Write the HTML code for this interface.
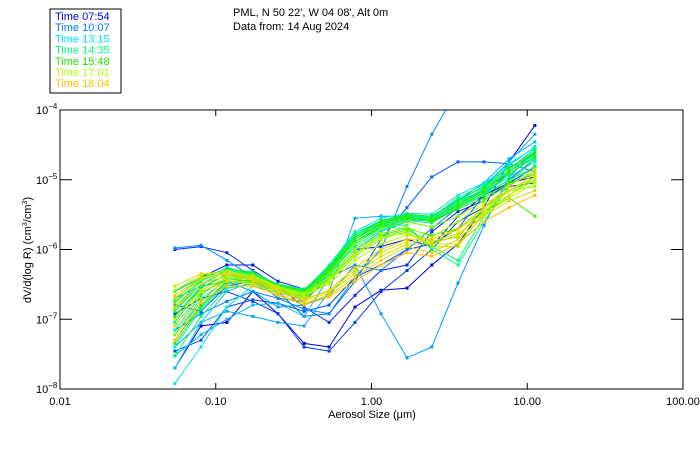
<!DOCTYPE html>
<html><head><meta charset="utf-8"><style>
html,body{margin:0;padding:0;background:#fff;}
svg{display:block;font-family:"Liberation Sans",sans-serif;}
</style></head><body>
<svg id="chart" width="700" height="450" viewBox="0 0 700 450">
<defs><clipPath id="plotclip"><rect x="60" y="110" width="623" height="279"/></clipPath></defs>
<rect x="50" y="9" width="71" height="84" fill="#fff" stroke="#000" stroke-width="1"/>
<g id="legend"></g>
<text x="233" y="16" font-size="11">PML, N 50 22', W 04 08', Alt 0m</text>
<text x="233" y="30" font-size="11">Data from: 14 Aug 2024</text>
<g id="series" clip-path="url(#plotclip)"></g>
<rect x="60" y="110" width="623" height="279" fill="none" stroke="#000" stroke-width="1"/>
<g id="axes"></g>
<text x="372" y="418" font-size="11" text-anchor="middle">Aerosol Size (μm)</text>
<text transform="translate(31,250) rotate(-90)" font-size="11" text-anchor="middle">dV/d(log R) (cm<tspan font-size="7" dy="-4">3</tspan><tspan dy="4">/cm</tspan><tspan font-size="7" dy="-4">3</tspan><tspan dy="4">)</tspan></text>
</svg>
<script>
const sizes=[0.0547,0.0804,0.118,0.173,0.251,0.369,0.534,0.784,1.15,1.69,2.44,3.59,5.27,7.64,11.2];
const xTicks=[0.01,0.1,1,10,100];
const xTickLabels=["0.01","0.10","1.00","10.00","100.00"];
const yTickExps=[-4,-5,-6,-7,-8];
const legendTimes=["07:54","10:07","13:15","14:35","15:48","17:01","18:04"];
const legendColors=["#0000e8","#0080ff","#00e0ff","#00ff80","#20e800","#b0ff00","#ffc000"];
const dvdlogR=[
[2.0e-8,8e-8,9e-8,2.5e-7,1.2e-7,4.5e-8,4e-8,1.5e-7,2.6e-7,2.8e-7,6e-7,1.2e-6,4e-6,1.8e-5,6e-5],
[2.5e-7,4e-7,6e-7,6e-7,3.5e-7,2.7e-7,4e-7,1.0e-6,1.1e-6,1.4e-6,1.1e-6,3e-6,6e-6,9e-6,1.1e-5],
[1e-6,1.1e-6,9e-7,5e-7,3e-7,1.5e-7,9e-8,2.2e-7,5e-7,6e-7,1.8e-6,3.5e-6,5e-6,9e-6,1.5e-5],
[1.2e-7,2.0e-7,2.5e-7,1.8e-7,1.2e-7,4e-8,3.5e-8,9e-8,2.5e-7,5e-7,1.0e-6,2.5e-6,4e-6,8e-6,9e-6],
[3.5e-8,5e-8,1.5e-7,1.9e-7,1.7e-7,1.3e-7,1.6e-7,4e-7,6e-7,1.0e-6,1.2e-6,2.0e-6,6e-6,1.0e-5,2.0e-5],
[1.6e-7,1.3e-7,3e-7,3.5e-7,2.5e-7,1.1e-7,1.2e-7,3.5e-7,1.4e-6,4e-6,1.1e-5,1.8e-5,1.8e-5,1.7e-5,1.3e-5],
[7e-8,1.2e-7,1.8e-7,2.5e-7,2.0e-7,1.8e-7,4e-7,6e-7,5e-7,1.0e-6,2.0e-6,4e-6,6e-6,1.3e-5,2.5e-5],
[1.05e-6,1.15e-6,7e-7,4e-7,2e-7,1.4e-7,1.2e-7,4e-7,1e-6,8e-6,4.5e-5,2e-4,3e-4,3e-4,3e-4],
[2.0e-7,3e-7,3.5e-7,2.5e-7,1.5e-7,1.6e-7,2.2e-7,6e-7,1.2e-7,2.8e-8,4e-8,3.3e-7,2.2e-6,1.1e-5,2.5e-5],
[4e-8,9e-8,1.3e-7,1.1e-7,9e-8,8e-8,2.5e-7,2.8e-6,3e-6,3e-6,3e-6,5e-6,8e-6,1.8e-5,4.5e-5],
[3e-8,6e-8,1.0e-7,1.6e-7,1.7e-7,1.1e-7,4e-7,1.0e-6,1.8e-6,2.5e-6,3e-6,5e-6,9e-6,2e-5,3.5e-5],
[2e-8,9e-8,2.5e-7,3.5e-7,2.6e-7,2.2e-7,5e-7,1.3e-6,2.2e-6,3.2e-6,2.8e-6,4.5e-6,7e-6,1.4e-5,2.8e-5],
[6e-8,1.8e-7,3.8e-7,3.8e-7,2.8e-7,2.4e-7,5.5e-7,1.6e-6,2.5e-6,3e-6,3e-6,5e-6,8e-6,1.6e-5,3e-5],
[1.2e-8,4e-8,1.5e-7,3e-7,2.4e-7,1.9e-7,4.5e-7,1.2e-6,2.0e-6,2.6e-6,2.6e-6,4e-6,6e-6,1.2e-5,2.2e-5],
[1.5e-7,3.5e-7,5.5e-7,4.5e-7,3e-7,2.6e-7,6e-7,1.8e-6,2.8e-6,3.3e-6,3.2e-6,6e-6,9e-6,1.5e-5,2.0e-5],
[9e-8,2.8e-7,4.5e-7,4.2e-7,3e-7,2.5e-7,5e-7,1.4e-6,2.4e-6,2.9e-6,2.7e-6,5e-6,7e-6,1.3e-5,2.5e-5],
[4e-8,1.4e-7,3.2e-7,3.5e-7,2.7e-7,2.2e-7,4.5e-7,1.1e-6,1.9e-6,2.6e-6,2.4e-6,4e-6,6.5e-6,1.1e-5,1.8e-5],
[1.1e-7,3.0e-7,5.2e-7,4.8e-7,3.1e-7,2.6e-7,5.8e-7,1.7e-6,2.6e-6,3.1e-6,2.9e-6,5.5e-6,8.5e-6,1.7e-5,2.9e-5],
[2.5e-7,4e-7,5e-7,4.5e-7,3.2e-7,2.7e-7,5.5e-7,1.5e-6,2.3e-6,2.2e-6,1.0e-6,6e-7,2.5e-6,8e-6,1.6e-5],
[7e-8,2.2e-7,4.2e-7,4e-7,2.9e-7,2.3e-7,5e-7,1.3e-6,2.1e-6,2.0e-6,1.1e-6,7e-7,3e-6,9e-6,2.0e-5],
[3e-8,1.1e-7,2.8e-7,3.2e-7,2.5e-7,2.0e-7,4.2e-7,1.2e-6,2.0e-6,2.8e-6,2.9e-6,4.5e-6,7.5e-6,1.4e-5,2.6e-5],
[1.3e-7,3.2e-7,4.9e-7,4.4e-7,3.0e-7,2.5e-7,5.3e-7,1.5e-6,2.5e-6,3.1e-6,2.8e-6,4.8e-6,7.2e-6,1.3e-5,2.3e-5],
[1.8e-7,3.6e-7,4.8e-7,4e-7,2.8e-7,2.3e-7,4.8e-7,1.3e-6,2.2e-6,2.8e-6,2.5e-6,4e-6,6e-6,1.0e-5,1.5e-5],
[5e-8,1.6e-7,3.5e-7,3.6e-7,2.6e-7,2.1e-7,4.6e-7,1.2e-6,2.1e-6,2.7e-6,2.7e-6,4.2e-6,6.5e-6,1.2e-5,2.1e-5],
[2.0e-7,3.9e-7,5.3e-7,4.6e-7,3.1e-7,2.6e-7,5.6e-7,1.6e-6,2.6e-6,3.2e-6,3.0e-6,5.2e-6,7.8e-6,1.5e-5,2.4e-5],
[1.1e-7,2.8e-7,4.4e-7,4.1e-7,2.9e-7,2.4e-7,5.2e-7,1.4e-6,2.4e-6,3.0e-6,2.5e-6,3.8e-6,5.5e-6,9e-6,1.2e-5],
[4.5e-8,1.5e-7,3.4e-7,3.7e-7,2.8e-7,2.3e-7,4.9e-7,1.4e-6,2.3e-6,2.9e-6,2.6e-6,4.4e-6,6.8e-6,1.3e-5,2.4e-5],
[8e-8,2.4e-7,3.8e-7,3.5e-7,2.6e-7,2.1e-7,4e-7,1.0e-6,1.6e-6,2.0e-6,1.6e-6,2.0e-6,3.5e-6,5.5e-6,3e-6],
[1.4e-7,3.2e-7,4.2e-7,3.8e-7,2.7e-7,2.2e-7,3.8e-7,9e-7,1.5e-6,1.9e-6,1.3e-6,1.5e-6,4e-6,7e-6,1.0e-5],
[1.7e-7,3.7e-7,4.8e-7,4.3e-7,3.0e-7,2.4e-7,4.6e-7,1.2e-6,2.0e-6,2.5e-6,2.1e-6,3.0e-6,5.0e-6,8.5e-6,1.3e-5],
[6e-8,2.0e-7,3.6e-7,3.3e-7,2.5e-7,2.0e-7,3.5e-7,8e-7,1.4e-6,1.8e-6,1.1e-6,1.1e-6,3.5e-6,6e-6,1.1e-5],
[2e-7,3.8e-7,4.5e-7,4e-7,2.9e-7,2.3e-7,4e-7,1.0e-6,1.7e-6,2.1e-6,1.5e-6,2.5e-6,4.5e-6,7e-6,8e-6],
[1.0e-7,2.6e-7,4e-7,3.7e-7,2.7e-7,2.2e-7,3.6e-7,8.5e-7,1.5e-6,1.7e-6,1.2e-6,1.2e-6,3.2e-6,5.5e-6,9e-6],
[2.6e-7,4.3e-7,4.9e-7,4.2e-7,2.9e-7,2.2e-7,3.2e-7,7e-7,1.2e-6,1.6e-6,1.4e-6,1.9e-6,3.8e-6,7e-6,1.1e-5],
[3e-7,4.5e-7,4.8e-7,4e-7,2.8e-7,2.0e-7,2.5e-7,5e-7,9e-7,1.3e-6,1.3e-6,1.7e-6,3e-6,6e-6,1.0e-5],
[1.5e-7,3.2e-7,4.2e-7,3.6e-7,2.5e-7,1.8e-7,2.4e-7,4.5e-7,8e-7,1.2e-6,1.2e-6,1.6e-6,3.5e-6,7e-6,1.2e-5],
[8e-8,2.5e-7,3.5e-7,3.2e-7,2.3e-7,1.7e-7,2.2e-7,4e-7,7e-7,1.1e-6,9e-7,1.4e-6,3e-6,5e-6,7e-6],
[2.2e-7,4e-7,4.5e-7,3.8e-7,2.6e-7,1.9e-7,2.6e-7,5.5e-7,1.0e-6,1.4e-6,1.4e-6,2.0e-6,4e-6,8e-6,1.4e-5],
[5e-8,1.8e-7,3e-7,3e-7,2.2e-7,1.6e-7,2.1e-7,3.5e-7,6e-7,9e-7,8e-7,1.2e-6,2.5e-6,4e-6,6e-6]
];
const NS="http://www.w3.org/2000/svg";
const X0=60,X1=683,Y0=110,Y1=389;
function xs(v){return X0+(Math.log10(v)+2)/4*(X1-X0);}
function ys(v){return Y0+(-4-Math.log10(v))/4*(Y1-Y0);}
function mk(tag,attrs,parent){const e=document.createElementNS(NS,tag);for(const k in attrs)e.setAttribute(k,attrs[k]);parent.appendChild(e);return e;}
function hex(c){return [1,3,5].map(i=>parseInt(c.substr(i,2),16));}
function colorAt(t){const n=legendColors.length-1;const p=t*n;const i=Math.min(Math.floor(p),n-1);const f=p-i;const a=hex(legendColors[i]),b=hex(legendColors[i+1]);return "rgb("+a.map((v,k)=>Math.round(v+(b[k]-v)*f)).join(",")+")";}
const sg=document.getElementById('series');
dvdlogR.forEach((vals,si)=>{
  const col=colorAt(si/(dvdlogR.length-1));
  const g=mk('g',{},sg);
  
  
  const pl=mk('polyline',{points:vals.map((v,i)=>xs(sizes[i]).toFixed(1)+","+ys(v).toFixed(1)).join(" "),fill:"none",stroke:col,"stroke-width":1},g);
  
  
  vals.forEach((v,i)=>{
    const r=mk('rect',{x:(xs(sizes[i])-1.5).toFixed(1),y:(ys(v)-1.5).toFixed(1),width:3,height:3,fill:col},g);
    
    
  });
});
const ax=document.getElementById('axes');
xTicks.forEach((t,i)=>{
  const x=xs(t);
  const a=mk('line',{x1:x,x2:x,y1:Y1,y2:Y1-6,stroke:"#000"},ax);
  
  
  const b=mk('line',{x1:x,x2:x,y1:Y0,y2:Y0+6,stroke:"#000"},ax);
  
  
  const tx=mk('text',{x:x,y:405,"font-size":11,"text-anchor":"middle"},ax);
  tx.textContent=xTickLabels[i];
  
  
});
yTickExps.forEach(e=>{
  const y=ys(Math.pow(10,e));
  const a=mk('line',{x1:X0,x2:X0+12,y1:y,y2:y,stroke:"#000"},ax);
  
  
  const b=mk('line',{x1:X1,x2:X1-12,y1:y,y2:y,stroke:"#000"},ax);
  
  
  const tx=mk('text',{x:36,y:y+4,"font-size":11},ax);
  
  
  tx.appendChild(document.createTextNode("10"));
  const sup=mk('tspan',{"font-size":8,dy:-5},tx);
  sup.textContent="−"+(-e);
});
const lg=document.getElementById('legend');
legendTimes.forEach((t,i)=>{
  const tx=mk('text',{x:55,y:20+i*11.2,"font-size":11,fill:legendColors[i]},lg);
  tx.textContent="Time "+t;
  
  
});
</script>
</body></html>
